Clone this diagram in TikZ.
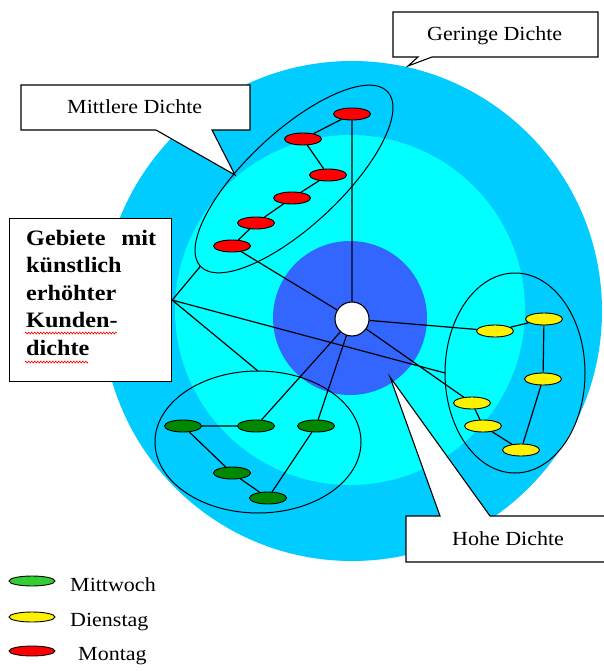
\documentclass[tikz,border=0pt]{standalone}
\usepackage{fontspec}
\setmainfont{Liberation Serif}[FakeStretch=1.1]
\usetikzlibrary{shapes.geometric,decorations.pathmorphing}
\definecolor{outerblue}{HTML}{00CCFF}
\definecolor{midcyan}{HTML}{00FFFF}
\definecolor{innerblue}{HTML}{3366FF}
\definecolor{mogreen}{HTML}{008800}
\definecolor{leggreen}{HTML}{33CC33}
\begin{document}
\begin{tikzpicture}[x=1pt,y=-1pt,
  stop/.style={ellipse,draw=black,line width=0.9pt,minimum width=37pt,minimum height=12pt,inner sep=0pt},
  mon/.style={stop,fill=red},
  die/.style={stop,fill=yellow},
  mit/.style={stop,fill=mogreen},
  legstop/.style={stop,minimum width=46pt,minimum height=10pt},
  route/.style={line width=1.2pt},
  cluster/.style={ellipse,draw=black,line width=1pt,inner sep=0pt,outer sep=0pt},
  callout/.style={draw=black,fill=white,line width=1.1pt},
  lbl/.style={font=\fontsize{20}{24}\selectfont,anchor=base west,inner sep=0pt},
  wavy/.style={draw=red,line width=0.6pt,decorate,decoration={zigzag,amplitude=1pt,segment length=3pt}},
]
\useasboundingbox (0,0) rectangle (603,671);
\fill[white] (0,0) rectangle (603,671);
% density zones
\fill[outerblue] (352,311) circle (250pt);
\fill[midcyan] (350,310) circle (175pt);
\fill[innerblue] (350,318) circle (77pt);
% clusters
\node[cluster,minimum width=256pt,minimum height=94pt,rotate=43] (cm) at (294,179) {};
\node[cluster,minimum width=140pt,minimum height=200pt] (cd) at (515,373) {};
\node[cluster,minimum width=206pt,minimum height=142pt] (cw) at (258,442) {};
% hub
\node[circle,draw=black,fill=white,minimum size=34pt,inner sep=0pt,line width=1.1pt] (hub) at (352,319) {};
% Montag
\node[mon] (r1) at (352,114) {};
\node[mon] (r2) at (303,139) {};
\node[mon] (r3) at (328,175) {};
\node[mon] (r4) at (292,198) {};
\node[mon] (r5) at (256,223) {};
\node[mon] (r6) at (232,246) {};
% Dienstag
\node[die] (y1) at (495,331) {};
\node[die] (y2) at (544,319) {};
\node[die] (y3) at (543,379) {};
\node[die] (y4) at (472,403) {};
\node[die] (y5) at (483,426) {};
\node[die] (y6) at (521,450) {};
% Mittwoch
\node[mit] (g1) at (183,426) {};
\node[mit] (g2) at (256,426) {};
\node[mit] (g3) at (316,426) {};
\node[mit] (g4) at (232,473) {};
\node[mit] (g5) at (268,498) {};
% routes
\draw[route] (hub) -- (r1) -- (r2) -- (r3) -- (r4) -- (r5) -- (r6) -- (hub);
\draw[route] (hub) -- (y1) -- (y2) -- (y3) -- (y6) -- (y5) -- (y4) -- (hub);
\draw[route] (hub) -- (g2) -- (g1) -- (g4) -- (g5) -- (g3) -- (hub);
% Gebiete box
\node[draw=black,fill=white,line width=1.2pt,minimum width=162pt,minimum height=163pt,anchor=north west,inner sep=0pt] (geb) at (9,218) {};
\node[font=\bfseries\fontsize{22}{27.5}\selectfont,text width=130pt,align=left,anchor=north west,inner sep=0pt] (gebtxt) at (26,230)
  {\makebox[130pt][l]{Gebiete\hfill mit}\\künstlich\\erhöhter\\Kunden-\\dichte};
\draw[wavy] (25,333) -- (117,333);
\draw[wavy] (25,362) -- (88,362);
\draw[route] (geb.east) -- (cm.west);
\draw[route] (geb.east) -- (cd.west);
\draw[route] (geb.east) -- (cw.north);
% callouts
\draw[callout] (21,85) -- (250,85) -- (250,130) -- (212,130) -- (235,175) -- (156,130) -- (21,130) -- cycle;
\node[lbl] (mtxt) at (67,114) {Mittlere Dichte};
\draw[callout] (393,12) -- (598,12) -- (598,57) -- (432,57) -- (408,66) -- (418,57) -- (393,57) -- cycle;
\node[lbl] (gtxt) at (427,41) {Geringe Dichte};
\draw[callout] (406,516) -- (440,516) -- (390,377) -- (490,516) -- (610,516) -- (610,562) -- (406,562) -- cycle;
\node[lbl] (htxt) at (452,545) {Hohe Dichte};
% legend
\node[legstop,fill=leggreen] (lw) at (32,581) {};
\node[lbl] (lwt) at (70,591) {Mittwoch};
\node[legstop,fill=yellow] (ld) at (32,617) {};
\node[lbl] (ldt) at (70,626) {Dienstag};
\node[legstop,fill=red] (lm) at (32,651) {};
\node[lbl] (lmt) at (78,660) {Montag};
\end{tikzpicture}
\end{document}
